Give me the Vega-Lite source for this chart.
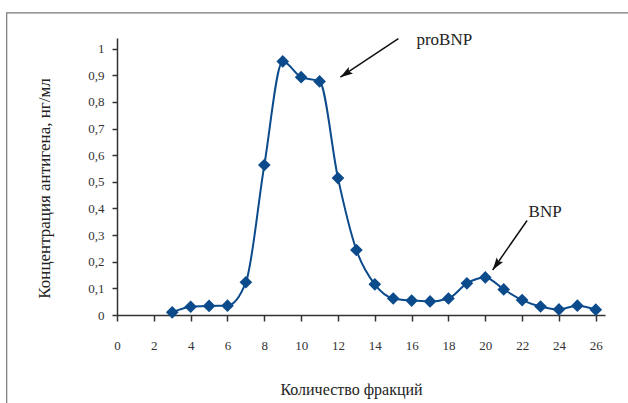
{
  "$schema": "https://vega.github.io/schema/vega-lite/v6.json",
  "width": 488,
  "height": 277,
  "autosize": {"type": "none"},
  "padding": {"left": 117, "top": 38, "right": 23, "bottom": 88},
  "background": "white",
  "config": {
    "view": {"stroke": null},
    "font": "Liberation Serif",
    "axis": {"labelOverlap": false, "labelFlush": false, "grid": false}
  },
  "datasets": {
    "series": [
      {"x": 3, "y": 0.01},
      {"x": 4, "y": 0.031},
      {"x": 5, "y": 0.034},
      {"x": 6, "y": 0.035},
      {"x": 7, "y": 0.123},
      {"x": 8, "y": 0.563},
      {"x": 9, "y": 0.952},
      {"x": 10, "y": 0.893},
      {"x": 11, "y": 0.877},
      {"x": 12, "y": 0.514},
      {"x": 13, "y": 0.244},
      {"x": 14, "y": 0.115},
      {"x": 15, "y": 0.062},
      {"x": 16, "y": 0.054},
      {"x": 17, "y": 0.051},
      {"x": 18, "y": 0.062},
      {"x": 19, "y": 0.119},
      {"x": 20, "y": 0.141},
      {"x": 21, "y": 0.096},
      {"x": 22, "y": 0.056},
      {"x": 23, "y": 0.032},
      {"x": 24, "y": 0.021},
      {"x": 25, "y": 0.035},
      {"x": 26, "y": 0.02}
    ],
    "arrows": [
      {"label": "proBNP", "x": 15.28, "y": 1.0376, "x2": 12.13, "y2": 0.893},
      {"label": "BNP", "x": 22.27, "y": 0.355, "x2": 20.4, "y2": 0.169}
    ],
    "heads": [
      {"label": "proBNP", "x": 12.13, "y": 0.893, "angle": 236.5},
      {"label": "BNP", "x": 20.4, "y": 0.169, "angle": 214.9}
    ],
    "labels": [
      {"label": "proBNP", "x": 16.26, "y": 1.031},
      {"label": "BNP", "x": 22.35, "y": 0.388}
    ],
    "frame": [
      {"x": -5.99, "x2": 30, "y": 1.134, "y2": -0.45}
    ]
  },
  "encoding": {
    "x": {
      "field": "x", "type": "quantitative",
      "scale": {"domain": [0, 26.5], "nice": false, "zero": false},
      "axis": {
        "values": [0, 2, 4, 6, 8, 10, 12, 14, 16, 18, 20, 22, 24, 26],
        "labelOverlap": false, "labelFlush": false,
        "grid": false,
        "domainColor": "#333333", "domainWidth": 1.5,
        "tickColor": "#333333", "tickWidth": 1.5, "tickSize": 6,
        "labelFont": "Liberation Serif", "labelFontSize": 13, "labelColor": "#333333",
        "labelPadding": 18, "labelDx": 3,
        "title": "Количество фракций",
        "titleFont": "Liberation Serif", "titleFontSize": 16, "titleFontWeight": "normal", "titleColor": "#222222",
        "titleX": 234, "titleY": 79, "titleAlign": "center", "titleBaseline": "alphabetic"
      }
    },
    "y": {
      "field": "y", "type": "quantitative",
      "scale": {"domain": [0, 1.04], "nice": false},
      "axis": {
        "values": [0, 0.1, 0.2, 0.3, 0.4, 0.5, 0.6, 0.7, 0.8, 0.9, 1],
        "labelOverlap": false, "labelFlush": false,
        "labelExpr": "replace(format(datum.value, '.1~f'), '.', ',')",
        "grid": false,
        "domainColor": "#333333", "domainWidth": 1.5,
        "tickColor": "#333333", "tickWidth": 1.5, "tickSize": 5,
        "labelFont": "Liberation Serif", "labelFontSize": 13, "labelColor": "#333333",
        "labelPadding": 8,
        "title": "Концентрация антигена, нг/мл",
        "titleFont": "Liberation Serif", "titleFontSize": 17, "titleFontWeight": "normal", "titleColor": "#222222",
        "titleX": -73, "titleY": 150, "titleAngle": -90, "titleAlign": "center", "titleBaseline": "middle"
      }
    }
  },
  "layer": [
    {
      "data": {"name": "series"},
      "mark": {"type": "line", "interpolate": "monotone", "color": "#0B4A8B", "strokeWidth": 2}
    },
    {
      "data": {"name": "series"},
      "mark": {"type": "point", "shape": "diamond", "filled": true, "size": 160, "color": "#0B4A8B", "opacity": 1}
    },
    {
      "data": {"name": "arrows"},
      "mark": {"type": "rule", "color": "#111111", "strokeWidth": 1.5, "clip": false},
      "encoding": {
        "x2": {"field": "x2"},
        "y2": {"field": "y2"}
      }
    },
    {
      "data": {"name": "heads"},
      "mark": {"type": "point", "shape": "M0,0L-0.65,2.1L0,1.7L0.65,2.1Z", "filled": true, "size": 144, "color": "#111111", "opacity": 1, "clip": false},
      "encoding": {
        "angle": {"field": "angle", "type": "quantitative", "scale": null}
      }
    },
    {
      "data": {"name": "labels"},
      "mark": {"type": "text", "align": "left", "baseline": "middle", "font": "Liberation Serif", "fontSize": 17, "color": "#222222", "clip": false},
      "encoding": {
        "text": {"field": "label"}
      }
    },
    {
      "data": {"name": "frame"},
      "mark": {"type": "rect", "filled": false, "stroke": "#777777", "strokeWidth": 1.2, "clip": false},
      "encoding": {
        "x2": {"field": "x2"},
        "y2": {"field": "y2"}
      }
    }
  ]
}
